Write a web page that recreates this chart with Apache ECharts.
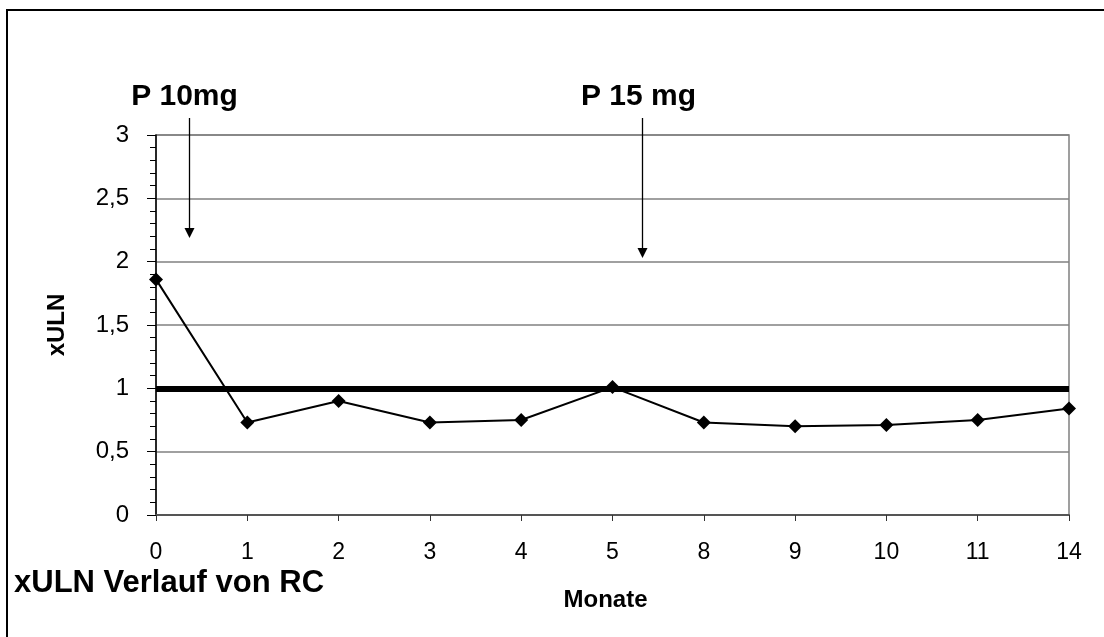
<!DOCTYPE html>
<html>
<head>
<meta charset="utf-8">
<script src="https://cdn.jsdelivr.net/npm/echarts@6/dist/echarts.min.js"></script>
<style>html,body{margin:0;padding:0;background:#fff}#c{width:1104px;height:637px}</style>
</head>
<body>
<div id="c"></div>
<script>
const months = ['0','1','2','3','4','5','8','9','10','11','14'];
const xuln = [1.86, 0.73, 0.90, 0.73, 0.75, 1.01, 0.73, 0.70, 0.71, 0.75, 0.84];
const ulnLimit = 1;
const yTicks = [0, 0.5, 1, 1.5, 2, 2.5, 3];
const annotations = [
  {text: 'P 10mg', month: '0'},
  {text: 'P 15 mg', month: '5'}
];
const FONT = '"Liberation Sans", Arial, sans-serif';
const chart = echarts.init(document.getElementById('c'));
chart.setOption({
  animation: false,
  backgroundColor: '#fff',
  grid: {left: 156, top: 135, right: 35, bottom: 122, show: true, borderColor: '#808080', borderWidth: 1.5},
  xAxis: {
    type: 'category', data: months, boundaryGap: false,
    axisLine: {lineStyle: {color: '#555', width: 2}},
    axisTick: {show: true, length: 6, lineStyle: {color: '#333'}},
    axisLabel: {color: '#000', fontSize: 23, fontFamily: FONT, margin: 26},
    splitLine: {show: false},
    name: 'Monate', nameLocation: 'middle', nameGap: 73,
    nameTextStyle: {color: '#000', fontSize: 24, fontWeight: 'bold', fontFamily: FONT, padding: [0, 14, 0, 0]}
  },
  yAxis: {
    type: 'value', min: yTicks[0], max: yTicks[yTicks.length - 1], interval: 0.5,
    axisLine: {show: true, lineStyle: {color: '#000', width: 1.5}},
    axisTick: {show: true, length: 9, lineStyle: {color: '#000'}},
    minorTick: {show: true, splitNumber: 5, length: 6, lineStyle: {color: '#000'}},
    axisLabel: {color: '#000', fontSize: 24, fontFamily: FONT, margin: 27,
      formatter: v => String(v).replace('.', ',')},
    splitLine: {show: true, lineStyle: {color: '#808080', width: 1.5}},
    name: 'xULN', nameLocation: 'middle', nameGap: 87, nameRotate: 90,
    nameTextStyle: {color: '#000', fontSize: 24, fontWeight: 'bold', fontFamily: FONT}
  },
  series: [{
    type: 'line', data: xuln,
    symbol: 'diamond', symbolSize: 14,
    lineStyle: {color: '#000', width: 2},
    itemStyle: {color: '#000'},
    z: 3,
    markLine: {
      silent: true, symbol: ['none', 'none'],
      label: {show: false},
      lineStyle: {color: '#000', width: 6, type: 'solid'},
      data: [{yAxis: ulnLimit}],
      z: 2
    }
  }]
});
function drawAnnotations() {
  const g = [
    {type: 'rect', shape: {x: 7, y: 10, width: 1200, height: 700}, style: {fill: 'none', stroke: '#000', lineWidth: 2}, silent: true},
    {type: 'text', left: 14, top: 568, style: {text: 'xULN Verlauf von RC', fontSize: 31, fontWeight: 'bold', fontFamily: FONT, fill: '#000'}}
  ];
  const arrowOffsets = [33, 29];
  const arrowEnds = [238, 258];
  annotations.forEach((a, i) => {
    const px = chart.convertToPixel({xAxisIndex: 0}, a.month) + arrowOffsets[i];
    const x = Math.round(px) + 0.5;
    const yEnd = arrowEnds[i];
    g.push({type: 'text', x: x - 5 + i * 1, y: 97, style: {text: a.text, fontSize: 30, fontWeight: 'bold', fontFamily: FONT, fill: '#000', align: 'center', verticalAlign: 'middle'}});
    g.push({type: 'line', shape: {x1: x, y1: 118, x2: x, y2: yEnd - 8}, style: {stroke: '#000', lineWidth: 1.3}});
    g.push({type: 'polygon', shape: {points: [[x - 5, yEnd - 10], [x + 5, yEnd - 10], [x, yEnd]]}, style: {fill: '#000'}});
  });
  chart.setOption({graphic: g});
}
drawAnnotations();
</script>
</body>
</html>
